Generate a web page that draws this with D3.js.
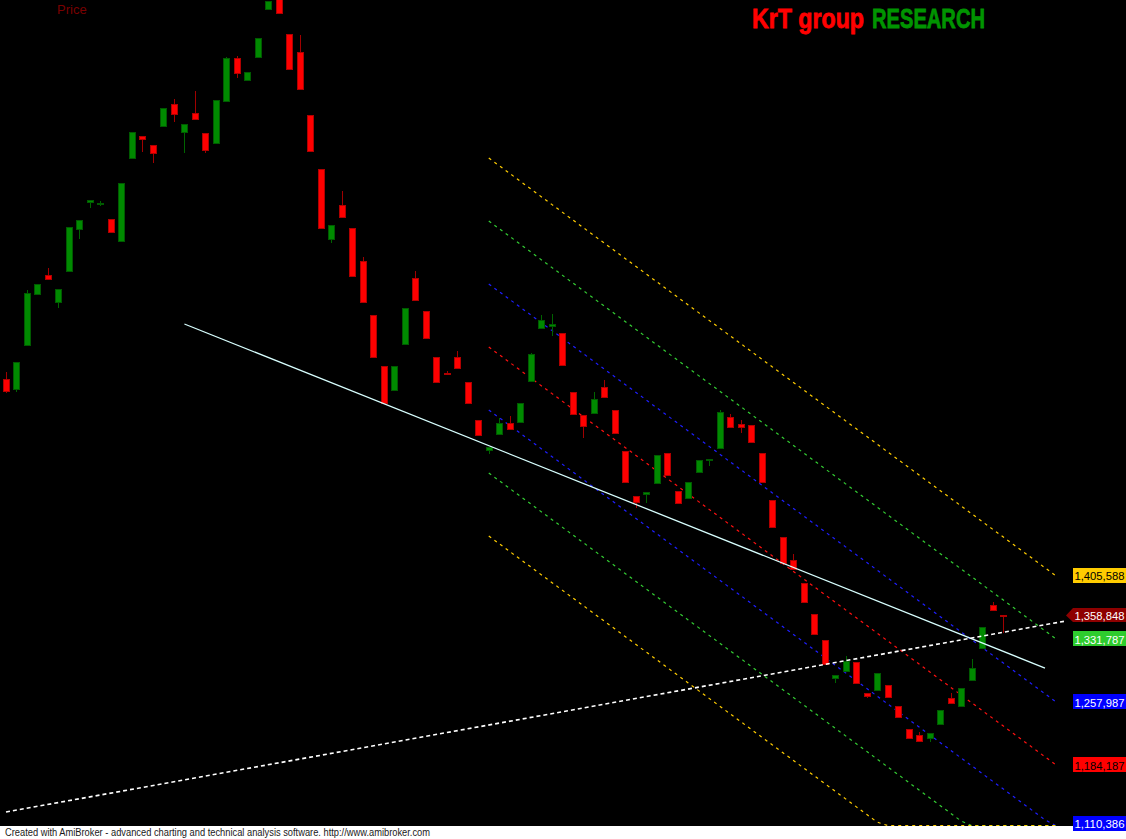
<!DOCTYPE html>
<html><head><meta charset="utf-8">
<script src="https://cdn.jsdelivr.net/npm/d3@7"></script>
<style>html,body{margin:0;padding:0;background:#000;overflow:hidden}</style>
</head><body>
<svg id="chart" width="1126" height="839"></svg>
<script>
// Prices in thousands
const opens = [1635.8,1624.1,1675.6,1735.3,1757.6,1726.0,1762.3,1811.5,1843.1,1840.8,
1823.2,1797.4,1894.6,1920.4,1909.9,1932.1,1957.9,1925.1,1947.4,1923.9,
1912.2,1961.4,2011.8,1986.0,2013.0,2069.2,2080.5,2039.9,2018.8,1945.0,
1881.8,1799.8,1839.6,1812.6,1774.0,1710.7,1651.0,1622.9,1676.8,1754.1,
1715.4,1661.5,1642.8,1661.5,1632.3,1587.7,1552.6,1571.3,1584.2,1585.4,
1633.4,1695.5,1697.9,1689.6,1620.5,1593.6,1595.9,1626.4,1599.5,1551.4,
1498.7,1501.1,1513.9,1549.1,1504.6,1496.4,1526.8,1540.9,1554.9,1591.3,
1583.1,1581.9,1549.1,1494.0,1450.7,1423.7,1396.8,1360.5,1330.0,1285.5,
1293.7,1304.3,1267.9,1271.5,1277.3,1252.7,1225.8,1218.8,1215.2,1231.6,
1262.1,1252.7,1283.2,1320.7,1371.0,1359.6];
const highs = [1644.0,1655.7,1740.0,1747.1,1765.8,1741.2,1813.8,1822.0,1845.5,1844.3,
1823.2,1865.4,1925.1,1920.4,1909.9,1953.2,1963.8,1934.5,1973.1,1923.9,
1962.6,2013.0,2014.1,1995.4,2035.2,2078.6,2080.5,2039.9,2038.7,1945.0,
1881.8,1816.2,1856.0,1812.6,1778.7,1710.7,1651.0,1651.0,1718.9,1762.3,
1715.4,1661.5,1645.1,1668.6,1632.3,1587.7,1556.1,1590.1,1592.4,1607.7,
1666.2,1710.7,1711.9,1689.6,1620.5,1593.6,1620.5,1634.6,1599.5,1551.4,
1498.7,1503.4,1546.7,1549.1,1504.6,1515.1,1540.9,1542.1,1599.5,1594.8,
1587.7,1581.9,1549.1,1494.0,1450.7,1430.8,1396.8,1360.5,1330.0,1289.0,
1311.3,1304.3,1267.9,1291.4,1277.3,1252.7,1225.8,1222.3,1221.1,1248.0,
1267.9,1273.8,1307.8,1345.3,1374.5,1359.6];
const lows = [1619.4,1620.5,1675.6,1735.3,1752.9,1718.9,1762.3,1799.8,1836.1,1838.4,
1808.0,1797.4,1894.6,1901.7,1888.8,1932.1,1936.8,1900.5,1940.3,1900.5,
1912.2,1961.4,1988.4,1986.0,2013.0,2069.2,2064.5,1998.9,1975.5,1902.8,
1812.6,1795.1,1825.5,1756.4,1726.0,1661.5,1607.7,1622.9,1676.8,1728.3,
1683.8,1632.3,1640.5,1648.7,1607.7,1570.2,1547.9,1571.3,1576.0,1585.4,
1633.4,1695.5,1686.1,1652.2,1594.8,1566.7,1595.9,1614.7,1572.5,1515.1,
1484.7,1490.5,1513.9,1523.3,1490.5,1496.4,1526.8,1533.9,1554.9,1579.5,
1572.5,1562.0,1515.1,1462.4,1420.2,1413.2,1374.5,1337.1,1301.9,1279.7,
1293.7,1279.7,1262.1,1271.5,1263.3,1239.8,1215.2,1211.7,1210.5,1231.6,
1256.2,1252.7,1283.2,1320.7,1365.2,1338.2];
const closes = [1621.7,1655.7,1736.5,1747.1,1752.9,1741.2,1813.8,1822.0,1845.5,1841.9,
1808.0,1865.4,1925.1,1916.9,1900.5,1953.2,1946.2,1934.5,1940.3,1904.0,
1962.6,2011.8,1994.2,1995.4,2035.2,2078.6,2064.5,1998.9,1975.5,1902.8,
1812.6,1816.2,1825.5,1756.4,1726.0,1661.5,1607.7,1651.0,1718.9,1728.3,
1683.8,1632.3,1641.6,1648.7,1607.7,1570.2,1556.1,1584.2,1577.2,1607.7,
1665.0,1704.9,1700.2,1652.2,1594.8,1580.7,1612.3,1614.7,1572.5,1515.1,
1491.7,1503.4,1546.7,1523.3,1490.5,1515.1,1540.9,1542.1,1597.1,1579.5,
1579.5,1562.0,1515.1,1462.4,1420.2,1413.2,1374.5,1337.1,1301.9,1289.0,
1305.4,1279.7,1264.4,1291.4,1263.3,1239.8,1215.2,1211.7,1221.1,1248.0,
1256.2,1273.8,1297.2,1345.3,1365.2,1358.848];

// Regression channel (bar index, mid value in thousands)
const channelBars = [46, 100];
const channelMid = [1673.25, 1184.187];
const channelStep = 73.8004;
const channelLevels = [3, 2, 1, 0, -1, -2, -3];
const channelColors = ['#FFCC00','#33CC33','#1E1EFF','#FF1010','#1E1EFF','#33CC33','#FFCC00'];

// Trend lines
const trendBars = [17, 99];
const trendValues = [1700.2, 1297.2];
const supportBars = [0, 101];
const supportValues = [1128.55, 1352.3];

// Right-side value labels
const labelValues = [1405588, 1331787, 1257987, 1184187, 1110386];
const labelFills = ['#FFCC00', '#2ECC2E', '#0000FF', '#FF0000', '#0000FF'];
const labelTextColors = ['#000000', '#FFFFFF', '#FFFFFF', '#000000', '#FFFFFF'];
const lastClose = 1358848;

const W = 1126, H = 839, plotBottom = 826;
const svg = d3.select('#chart');

const x = d3.scaleLinear().domain([0, 95]).range([6, 1003]);
const y = d3.scaleLinear().domain([1112.15, 2079.73]).range([plotBottom, 0]);
const yc = y.copy().clamp(true);

svg.append('rect').attr('x', 0).attr('y', 0).attr('width', W).attr('height', plotBottom).attr('fill', '#000');
svg.append('defs').append('clipPath').attr('id', 'plot')
  .append('rect').attr('x', 0).attr('y', 0).attr('width', W).attr('height', plotBottom);

const plot = svg.append('g').attr('clip-path', 'url(#plot)');

// Channel lines
const chBars = d3.range(channelBars[0], channelBars[1] + 1);
const midAt = b => channelMid[0] + (channelMid[1] - channelMid[0]) * (b - channelBars[0]) / (channelBars[1] - channelBars[0]);
const chLine = d3.line().x(d => x(d[0])).y(d => Math.min(yc(d[1]), plotBottom - 0.5));
channelLevels.forEach((lv, k) => {
  const pts = chBars.map(b => [b, midAt(b) + lv * channelStep]);
  plot.append('path').attr('d', chLine(pts)).attr('fill', 'none')
    .attr('stroke', channelColors[k]).attr('stroke-width', 1.2)
    .attr('stroke-dasharray', '3,4');
});

// Candles
const idx = d3.range(opens.length);
const cg = plot.append('g').attr('shape-rendering', 'crispEdges');
idx.forEach(i => {
  const up = closes[i] >= opens[i];
  const cx = Math.round(x(i));
  cg.append('line').attr('x1', cx + 0.5).attr('x2', cx + 0.5)
    .attr('y1', y(highs[i])).attr('y2', y(lows[i]))
    .attr('stroke', up ? '#006400' : '#A00000').attr('stroke-width', 1);
  const top = Math.round(y(Math.max(opens[i], closes[i])));
  const bot = Math.round(y(Math.min(opens[i], closes[i])));
  cg.append('rect').attr('x', cx - 2.5).attr('y', top + 0.5)
    .attr('width', 6).attr('height', Math.max(1, bot - top))
    .attr('fill', up ? '#008A00' : '#FF0000')
    .attr('stroke', up ? '#005A00' : '#B00000').attr('stroke-width', 1);
});

// White trend line (solid)
plot.append('line')
  .attr('x1', x(trendBars[0])).attr('y1', y(trendValues[0]))
  .attr('x2', x(trendBars[1])).attr('y2', y(trendValues[1]))
  .attr('stroke', '#D8FFFF').attr('stroke-width', 1.3);

// White dashed support line
plot.append('line')
  .attr('x1', x(supportBars[0])).attr('y1', y(supportValues[0]))
  .attr('x2', x(supportBars[1])).attr('y2', y(supportValues[1]))
  .attr('stroke', '#FFFFFF').attr('stroke-width', 1.6).attr('stroke-dasharray', '4,3');

// Footer
svg.append('rect').attr('x', 0).attr('y', plotBottom).attr('width', W).attr('height', H - plotBottom).attr('fill', '#FFFFFF');
svg.append('text').attr('x', 5).attr('y', 835.5)
  .attr('font-family', 'Liberation Sans, Arial, sans-serif').attr('font-size', 10)
  .attr('fill', '#1a1a1a').attr('textLength', 425).attr('lengthAdjust', 'spacingAndGlyphs')
  .text('Created with AmiBroker - advanced charting and technical analysis software. http://www.amibroker.com');

// Value labels
const fmt = d3.format(',');
const lg = svg.append('g');
labelValues.forEach((v, k) => {
  const cy = Math.min(y(v / 1000), 823);
  lg.append('rect').attr('x', 1073).attr('y', Math.round(cy - 7.5)).attr('width', 60).attr('height', 15)
    .attr('fill', labelFills[k]);
  lg.append('text').attr('x', 1074.5).attr('y', Math.round(cy) + 5)
    .attr('font-family', 'Liberation Sans, Arial, sans-serif').attr('font-size', 11.5)
    .attr('fill', labelTextColors[k]).attr('textLength', 50).attr('lengthAdjust', 'spacingAndGlyphs')
    .text(fmt(v));
});
// last close arrow label
{
  const cy = y(lastClose / 1000);
  const t = Math.round(cy - 7), b = Math.round(cy + 7);
  lg.append('path')
    .attr('d', `M1066,${cy} L1073,${t} L1130,${t} L1130,${b} L1073,${b} Z`)
    .attr('fill', '#8E0000');
  lg.append('text').attr('x', 1074.5).attr('y', Math.round(cy) + 5)
    .attr('font-family', 'Liberation Sans, Arial, sans-serif').attr('font-size', 11.5)
    .attr('fill', '#FFFFFF').attr('textLength', 50).attr('lengthAdjust', 'spacingAndGlyphs')
    .text(fmt(lastClose));
}

// "Price" label
svg.append('text').attr('x', 57).attr('y', 13.5)
  .attr('font-family', 'Liberation Sans, Arial, sans-serif').attr('font-size', 13)
  .attr('fill', '#7A0000').text('Price');

// Title
const titleFont = 'Liberation Sans Narrow, Arial Narrow, Liberation Sans, sans-serif';
svg.append('text').attr('transform', 'translate(752,28) scale(1,1.14)')
  .attr('font-family', titleFont).attr('font-weight', 'bold').attr('font-size', 24.5)
  .attr('fill', '#FF0000').attr('stroke', '#FF0000').attr('stroke-width', 0.7)
  .attr('textLength', 112).attr('lengthAdjust', 'spacingAndGlyphs')
  .text('KrT group');
svg.append('text').attr('transform', 'translate(872,28) scale(1,1.14)')
  .attr('font-family', titleFont).attr('font-weight', 'bold').attr('font-size', 24.5)
  .attr('fill', '#009400').attr('stroke', '#009400').attr('stroke-width', 0.7)
  .attr('textLength', 113).attr('lengthAdjust', 'spacingAndGlyphs')
  .text('RESEARCH');
</script>
</body></html>
